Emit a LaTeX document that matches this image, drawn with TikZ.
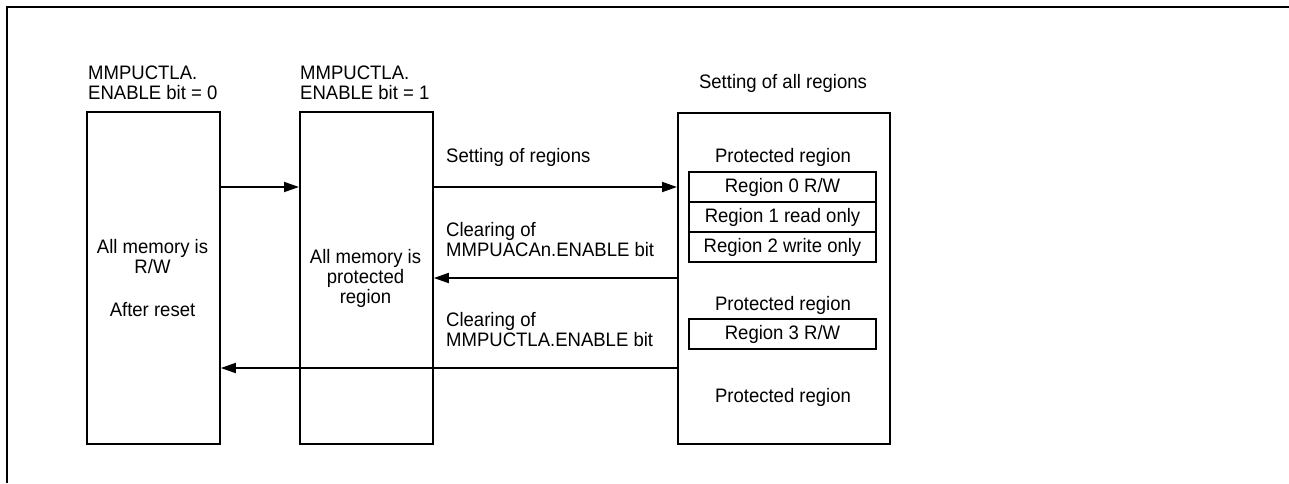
\documentclass[tikz,border=0pt]{standalone}
\usepackage{fontspec}
\setmainfont{Liberation Sans}[FakeStretch=0.95]
\usetikzlibrary{arrows.meta}
\tikzset{
  box/.style={draw, line width=1.8pt, inner sep=0pt, anchor=north west},
  regbox/.style={draw, line width=1.8pt, inner sep=0pt, minimum width=187pt, minimum height=30pt},
  txt/.style={inner sep=0pt, font=\fontsize{19.5}{20}\selectfont},
  arr/.style={line width=1.8pt, -{Triangle[length=15pt,width=10pt]}},
  frame/.style={line width=2.6pt}
}
\begin{document}
\begin{tikzpicture}[x=1pt,y=-1pt]
\useasboundingbox (0,0) rectangle (1289,483);
% frame
\coordinate (fbl) at (7,483);
\coordinate (ftl) at (7,7);
\coordinate (ftr) at (1289,7);
\draw[frame] (fbl) -- (ftl) -- (ftr);
% main boxes
\node[box, minimum width=133pt, minimum height=332pt] (b1) at (86,111) {};
\node[box, minimum width=133pt, minimum height=332pt] (b2) at (299,111) {};
\node[box, minimum width=212pt, minimum height=331pt] (b3) at (677,112) {};
% headers
\node[txt, align=left, anchor=west] (h1) at (88,83) {MMPUCTLA.\\ENABLE bit = 0};
\node[txt, align=left, anchor=west] (h2) at (300,83) {MMPUCTLA.\\ENABLE bit = 1};
\node[txt] (h3) at (783,83) {Setting of all regions};
% box texts
\node[txt, align=center] (t1a) at (152.5,257) {All memory is\\R/W};
\node[txt] (t1b) at (152.5,310) {After reset};
\node[txt, align=center] (t2) at (365.5,278) {All memory is\\protected\\region};
% regions
\node[txt] (p1) at (783,157) {Protected region};
\node[regbox, txt] (r0) at (782.5,187) {Region 0 R/W};
\node[regbox, txt] (r1) at (782.5,217) {Region 1 read only};
\node[regbox, txt] (r2) at (782.5,247) {Region 2 write only};
\node[txt] (p2) at (783,305) {Protected region};
\node[regbox, txt] (r3) at (782.5,334) {Region 3 R/W};
\node[txt] (p3) at (783,397) {Protected region};
% arrows
\coordinate (ya) at (0,187);
\coordinate (yb) at (0,278);
\coordinate (yc) at (0,368);
\draw[arr] (b1.east |- ya) -- (b2.west |- ya);
\draw[arr] (b2.east |- ya) -- (b3.west |- ya);
\draw[arr] (b3.west |- yb) -- (b2.east |- yb);
\draw[arr] (b3.west |- yc) -- (b1.east |- yc);
% arrow labels
\node[txt, anchor=west] (l1) at (446,157) {Setting of regions};
\node[txt, align=left, anchor=west] (l2) at (446,240) {Clearing of\\MMPUACAn.ENABLE bit};
\node[txt, align=left, anchor=west] (l3) at (446,330) {Clearing of\\MMPUCTLA.ENABLE bit};
\end{tikzpicture}
\end{document}
